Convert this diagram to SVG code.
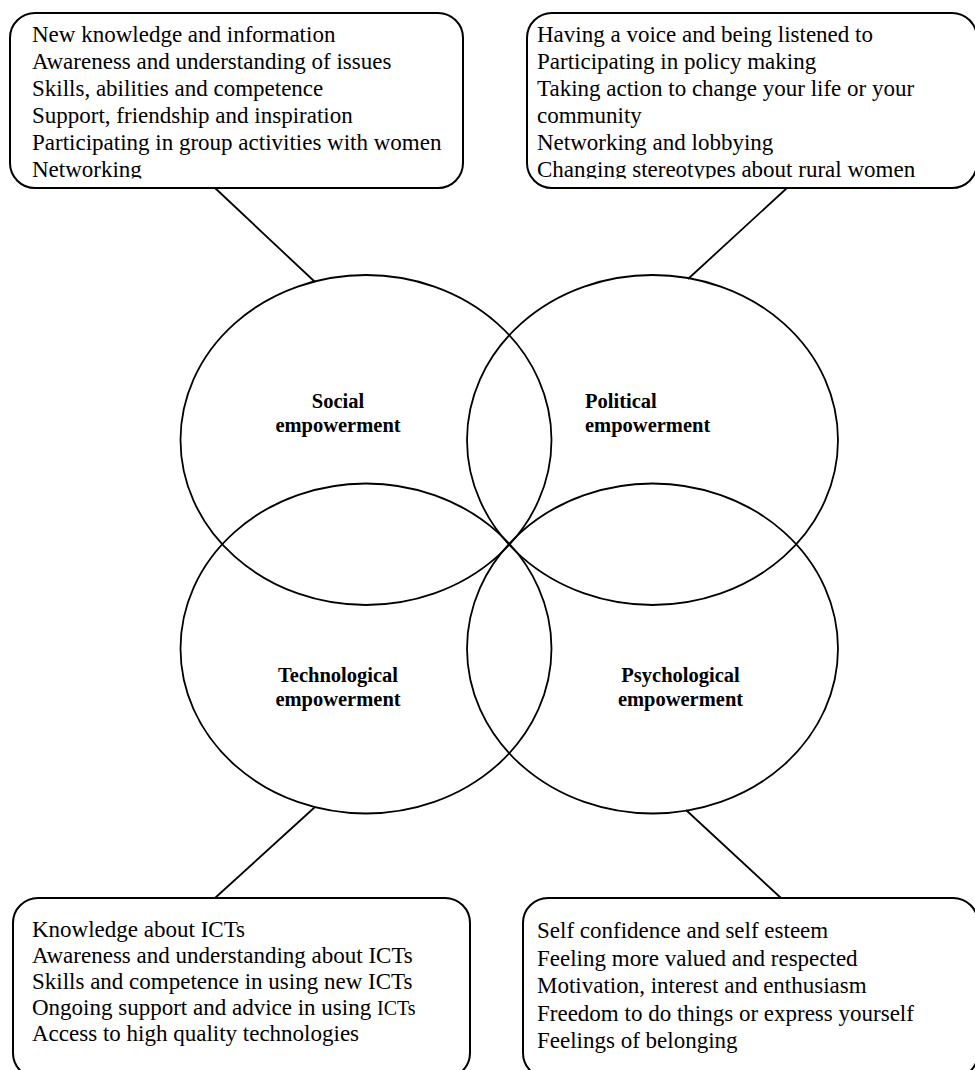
<svg xmlns="http://www.w3.org/2000/svg" width="975" height="1070" viewBox="0 0 975 1070">
  <style>
    .box { fill: #ffffff; stroke: #000000; stroke-width: 2; }
    .circ { fill: none; stroke: #000000; stroke-width: 1.8; }
    .con { stroke: #000000; stroke-width: 1.8; fill: none; }
    .t { font-family: "Liberation Serif", "Times New Roman", serif; font-size: 23px; fill: #000000; }
    .lbl { font-family: "Liberation Serif", "Times New Roman", serif; font-size: 20.5px; font-weight: bold; fill: #000000; }
  </style>
  <defs>
    <clipPath id="clipTL"><rect x="10" y="13" width="453" height="165.5"/></clipPath>
    <clipPath id="clipTR"><rect x="527" y="13" width="450" height="165.5"/></clipPath>
  </defs>
  <rect x="0" y="0" width="975" height="1070" fill="#ffffff"/>

  <g id="connectors">
    <line class="con" x1="215" y1="188" x2="315" y2="282"/>
    <line class="con" x1="787" y1="188" x2="688" y2="279"/>
    <line class="con" x1="315" y1="807" x2="215" y2="898"/>
    <line class="con" x1="686" y1="810" x2="781" y2="898"/>
  </g>

  <g id="social">
    <ellipse class="circ" cx="366" cy="440" rx="185.5" ry="165"/>
    <text class="lbl" text-anchor="middle" x="338" y="408">Social</text>
    <text class="lbl" text-anchor="middle" x="338" y="432">empowerment</text>
  </g>
  <g id="political">
    <ellipse class="circ" cx="652.5" cy="440" rx="185.5" ry="165"/>
    <text class="lbl" x="585" y="408">Political</text>
    <text class="lbl" x="585" y="432">empowerment</text>
  </g>
  <g id="technological">
    <ellipse class="circ" cx="366" cy="648.5" rx="185.5" ry="165"/>
    <text class="lbl" text-anchor="middle" x="338" y="682">Technological</text>
    <text class="lbl" text-anchor="middle" x="338" y="706">empowerment</text>
  </g>
  <g id="psychological">
    <ellipse class="circ" cx="652.5" cy="648.5" rx="185.5" ry="165"/>
    <text class="lbl" text-anchor="middle" x="680.5" y="682">Psychological</text>
    <text class="lbl" text-anchor="middle" x="680.5" y="706">empowerment</text>
  </g>

  <g id="box-social">
    <rect class="box" x="10" y="13" width="453" height="175" rx="25" ry="25"/>
    <g clip-path="url(#clipTL)">
      <text class="t" x="32" y="42">New knowledge and information</text>
      <text class="t" x="32" y="69">Awareness and understanding of issues</text>
      <text class="t" x="32" y="96">Skills, abilities and competence</text>
      <text class="t" x="32" y="123">Support, friendship and inspiration</text>
      <text class="t" x="32" y="150">Participating in group activities with women</text>
      <text class="t" x="32" y="177">Networking</text>
    </g>
  </g>

  <g id="box-political">
    <rect class="box" x="527" y="13" width="450" height="175" rx="25" ry="25"/>
    <g clip-path="url(#clipTR)">
      <text class="t" x="537" y="42">Having a voice and being listened to</text>
      <text class="t" x="537" y="69">Participating in policy making</text>
      <text class="t" x="537" y="96">Taking action to change your life or your</text>
      <text class="t" x="537" y="123">community</text>
      <text class="t" x="537" y="150">Networking and lobbying</text>
      <text class="t" x="537" y="177">Changing stereotypes about rural women</text>
    </g>
  </g>

  <g id="box-technological">
    <rect class="box" x="13" y="898" width="457" height="180" rx="25" ry="25"/>
    <text class="t" x="32" y="937">Knowledge about ICTs</text>
    <text class="t" x="32" y="963">Awareness and understanding about ICTs</text>
    <text class="t" x="32" y="989">Skills and competence in using new ICTs</text>
    <text class="t" x="32" y="1015">Ongoing support and advice in using <tspan font-size="20">ICTs</tspan></text>
    <text class="t" x="32" y="1041">Access to high quality technologies</text>
  </g>

  <g id="box-psychological">
    <rect class="box" x="523" y="898" width="455" height="180" rx="25" ry="25"/>
    <text class="t" x="537" y="938">Self confidence and self esteem</text>
    <text class="t" x="537" y="965.5">Feeling more valued and respected</text>
    <text class="t" x="537" y="993">Motivation, interest and enthusiasm</text>
    <text class="t" x="537" y="1020.5">Freedom to do things or express yourself</text>
    <text class="t" x="537" y="1048">Feelings of belonging</text>
  </g>
</svg>
